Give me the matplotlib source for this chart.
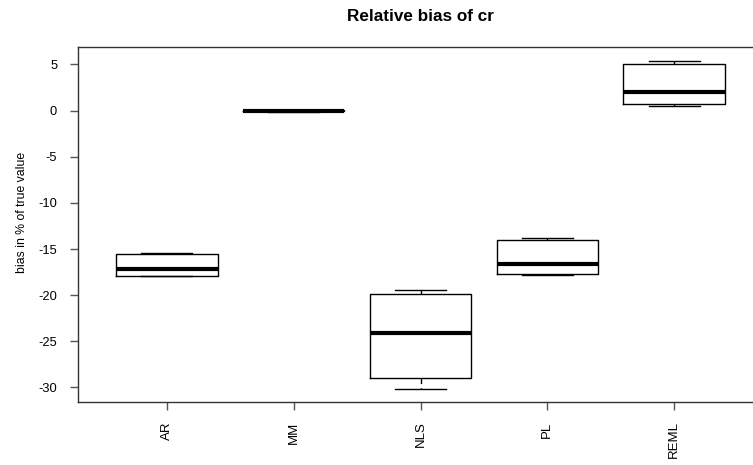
import numpy as np
import matplotlib
matplotlib.use('Agg')
import matplotlib.pyplot as plt

plt.rcParams['font.family'] = ['Liberation Sans', 'DejaVu Sans']
plt.rcParams['axes.unicode_minus'] = False

methods = ['AR', 'MM', 'NLS', 'PL', 'REML']
# five-number summaries
whislo = [-17.96, -0.10, -30.15, -17.85, 0.45]
q1 = [-17.88, -0.05, -29.00, -17.67, 0.67]
med = [-17.13, 0.00, -24.08, -16.63, 2.00]
q3 = [-15.55, 0.05, -19.83, -14.05, 5.09]
whishi = [-15.40, 0.10, -19.44, -13.83, 5.42]

stats = []
for i, m in enumerate(methods):
    stats.append(dict(label=m, whislo=whislo[i], q1=q1[i], med=med[i],
                      q3=q3[i], whishi=whishi[i], fliers=[]))

fig = plt.figure(figsize=(7.53, 4.65), dpi=100, facecolor='white')
ax = fig.add_axes([0.1036, 0.1355, 0.9097, 0.7625])

pos = np.arange(1, len(methods) + 1)
ax.bxp(stats, positions=pos, widths=0.8, showfliers=False,
       boxprops=dict(color='black', linewidth=1),
       medianprops=dict(color='black', linewidth=3, solid_capstyle='butt'),
       whiskerprops=dict(color='black', linewidth=1, linestyle=(0, (4, 3))),
       capprops=dict(color='black', linewidth=1), capwidths=0.4)

# R-style axis extension (4%)
lo, hi = min(whislo), max(whishi)
ax.set_ylim(lo - 0.04 * (hi - lo), hi + 0.04 * (hi - lo))
ax.set_xlim(0.3, 5.7)
ax.set_yticks([5, 0, -5, -10, -15, -20, -25, -30])
ax.set_xticks(pos)
ax.set_xticklabels(methods, rotation=90)

for s in ax.spines.values():
    s.set_color('#333333')
    s.set_linewidth(1)
ax.tick_params(axis='both', direction='out', length=6, width=1,
               color='#555555', labelsize=9.3)
ax.tick_params(axis='y', pad=9)
ax.tick_params(axis='x', pad=8, labelsize=9.5)

ax.set_ylabel('bias in % of true value', fontsize=8.8)
ax.yaxis.set_label_coords(-0.073, 0.534)
ax.set_title('Relative bias of cr', fontsize=12.3, fontweight='bold', pad=19)

fig.savefig('out.png', dpi=100, facecolor='white')
